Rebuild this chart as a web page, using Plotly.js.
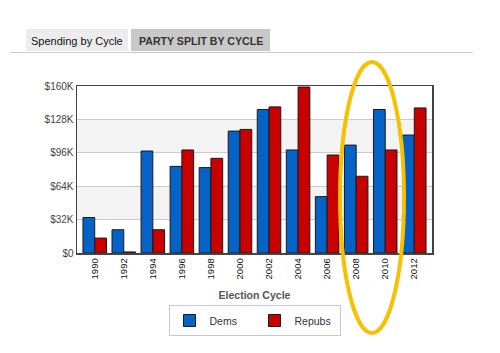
<!DOCTYPE html>
<html>
<head>
<meta charset="utf-8">
<script src="https://cdn.plot.ly/plotly-3.0.1.min.js"></script>
<style>
html,body{margin:0;padding:0;background:#fff;}
#chart{width:500px;height:353px;}
</style>
</head>
<body>
<div id="chart"></div>
<script>
var cycles = ["1990","1992","1994","1996","1998","2000","2002","2004","2006","2008","2010","2012"];
var dems   = [34000, 22300, 97700, 83000, 81800, 116800, 137500, 98700, 54000, 103400, 137500, 113000];
var repubs = [14300, 1000, 22300, 98700, 90700, 118400, 140000, 159000, 93900, 73500, 98700, 139000];
var yTickVals = [0, 32000, 64000, 96000, 128000, 160000];
var yTickText = ["$0", "$32K", "$64K", "$96K", "$128K", "$160K"];
var tabLabels = ["Spending by Cycle", "PARTY SPLIT BY CYCLE"];

var L = 77, R = 68, T = 86, B = 100, W = 500, H = 353;
var pw = W - L - R, ph = H - T - B;
function px(x){ return (x - L) / pw; }
function py(y){ return (H - B - y) / ph; }

var font = "Liberation Sans, Arial, sans-serif";

var traces = [
  {type: "bar", name: "Dems", x: cycles, y: dems,
   marker: {color: "#0563c8", line: {color: "#1a1a1a", width: 1}}},
  {type: "bar", name: "Repubs", x: cycles, y: repubs,
   marker: {color: "#c80000", line: {color: "#1a1a1a", width: 1}}}
];

var shapes = [
  {type: "rect", xref: "paper", yref: "y", x0: 0, x1: 1, y0: 96000, y1: 128000,
   fillcolor: "#f3f3f3", line: {width: 0}, layer: "below"},
  {type: "rect", xref: "paper", yref: "y", x0: 0, x1: 1, y0: 32000, y1: 64000,
   fillcolor: "#f3f3f3", line: {width: 0}, layer: "below"},
  // tabs
  {type: "rect", xref: "paper", yref: "paper", x0: px(26), x1: px(128), y0: py(51), y1: py(29),
   fillcolor: "#ececec", line: {width: 0}},
  {type: "rect", xref: "paper", yref: "paper", x0: px(131), x1: px(270), y0: py(51), y1: py(29),
   fillcolor: "#c8c8c8", line: {width: 0}},
  {type: "line", xref: "paper", yref: "paper", x0: px(10), x1: px(473), y0: py(52.5), y1: py(52.5),
   line: {color: "#cccccc", width: 1}},
  // highlight ellipse
  {type: "circle", xref: "paper", yref: "paper", x0: px(340), x1: px(404), y0: py(333), y1: py(62),
   line: {color: "#f7c000", width: 4}, layer: "above"}
];

var annotations = [
  {xref: "paper", yref: "paper", x: px(77), y: py(41), text: tabLabels[0], showarrow: false,
   xanchor: "center", yanchor: "middle", font: {family: font, size: 11, color: "#111"}},
  {xref: "paper", yref: "paper", x: px(200.5), y: py(41), text: "<b>" + tabLabels[1] + "</b>", showarrow: false,
   xanchor: "center", yanchor: "middle", font: {family: font, size: 10.6, color: "#333"}}
];

var layout = {
  width: W, height: H,
  margin: {l: L, r: R, t: T, b: B, pad: 0},
  paper_bgcolor: "#ffffff",
  plot_bgcolor: "rgba(0,0,0,0)",
  barmode: "group",
  bargap: 0.19,
  bargroupgap: 0,
  showlegend: true,
  legend: {orientation: "h", x: px(254.5), xanchor: "center", y: py(305), yanchor: "top",
           bgcolor: "#ffffff", bordercolor: "#c8c8c8", borderwidth: 1,
           itemwidth: 30, tracegroupgap: 0, entrywidth: 40, entrywidthmode: "pixels",
           font: {family: font, size: 10.5, color: "#333"}},
  xaxis: {type: "category", range: [-0.61, 11.61], tickangle: -90,
          tickfont: {family: font, size: 9.5, color: "#111"},
          showline: true, linecolor: "#444", linewidth: 1.5, mirror: true,
          ticks: "", showgrid: false,
          title: {text: "<b>Election Cycle</b>", font: {family: font, size: 10.5, color: "#555"}, standoff: 13}},
  yaxis: {range: [0, 160000], tickvals: yTickVals, ticktext: yTickText,
          tickfont: {family: font, size: 10, color: "#444"},
          showline: true, linecolor: "#444", linewidth: 1.5, mirror: true,
          showgrid: true, gridcolor: "#cccccc", gridwidth: 1, zeroline: false, ticks: ""},
  shapes: shapes,
  annotations: annotations
};

Plotly.newPlot("chart", traces, layout, {displayModeBar: false, staticPlot: true});
</script>
</body>
</html>
